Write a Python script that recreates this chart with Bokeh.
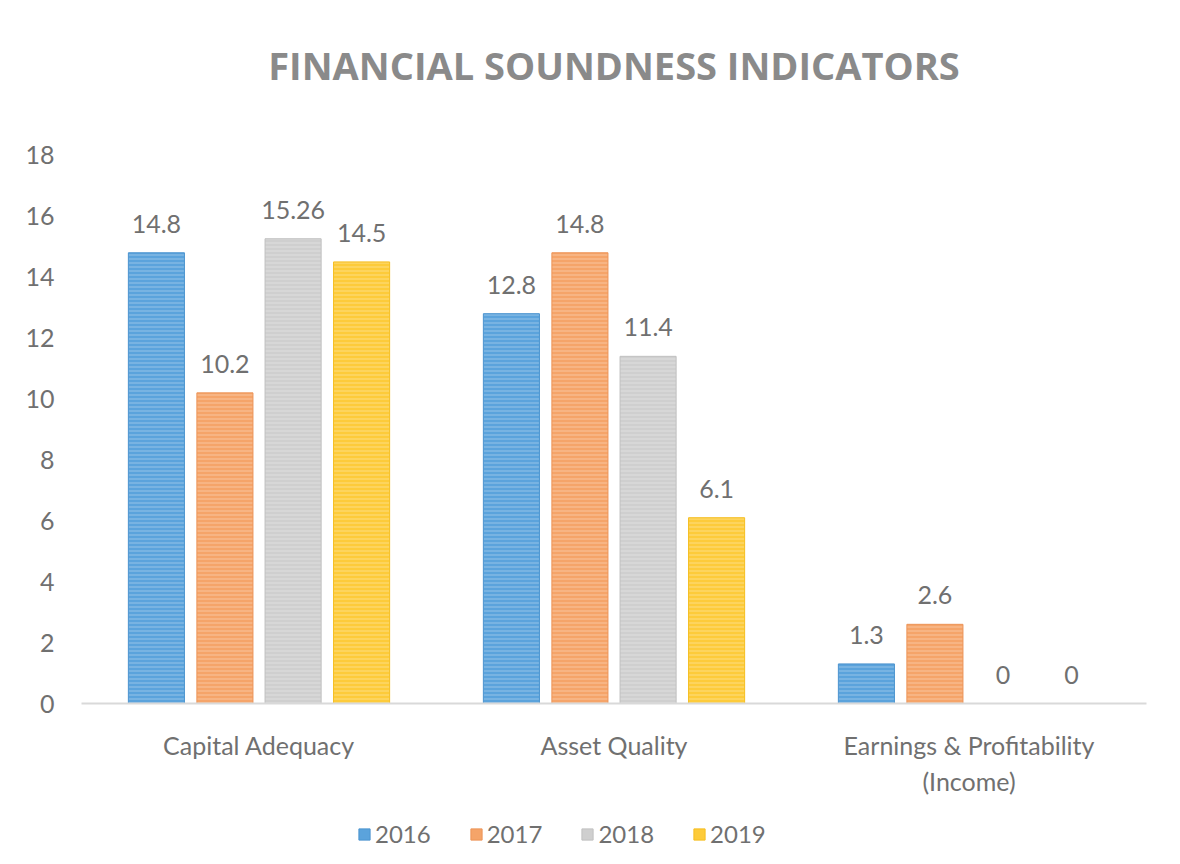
from bokeh.plotting import figure
from bokeh.layouts import column
from bokeh.models import ColumnDataSource, FactorRange, Range1d, Legend, LegendItem, LabelSet, FixedTicker
from bokeh.core.properties import value
from bokeh.transform import dodge
from bokeh.embed import file_html
from bokeh.resources import INLINE

categories = ["Capital Adequacy", "Asset Quality", "Earnings & Profitability\n(Income)"]
years = ["2016", "2017", "2018", "2019"]
v2016 = [14.8, 12.8, 1.3]
v2017 = [10.2, 14.8, 2.6]
v2018 = [15.26, 11.4, 0]
v2019 = [14.5, 6.1, 0]
y_ticks = [0, 2, 4, 6, 8, 10, 12, 14, 16, 18]

colors = ["#5BA3DC", "#F5A469", "#CFCFCF", "#FDCB3A"]
edge = ["#4C94CF", "#EC9458", "#C0C0C0", "#F5BE20"]
offsets = [-0.289, -0.096, 0.096, 0.289]
series = [v2016, v2017, v2018, v2019]

text_color = "#707070"
font = "Lato"
fs = "25px"

data = {"cat": categories}
for y, vals in zip(years, series):
    data["y" + y] = vals
    data["t" + y] = [("%g" % v) for v in vals]
source = ColumnDataSource(data)

# frame extends above the top tick (no visible frame), so the title can sit higher
p = figure(width=1172, frame_width=1065, frame_height=603,
           x_range=FactorRange(*categories, range_padding=0),
           y_range=Range1d(0, 19.8), output_backend="svg", toolbar_location=None,
           min_border_left=81, min_border_right=26, min_border_top=100, min_border_bottom=109)
p.outline_line_color = None
p.background_fill_color = "white"
p.border_fill_color = "white"
p.xgrid.grid_line_color = None
p.ygrid.grid_line_color = None

p.title.text = "FINANCIAL SOUNDNESS INDICATORS"
p.title.align = "center"
p.title.text_font = "Open Sans"
p.title.text_font_size = "38px"
p.title.text_font_style = "bold"
p.title.text_color = "#8A8A8A"
p.title.standoff = 20

for i, y in enumerate(years):
    p.vbar(x=dodge("cat", offsets[i], range=p.x_range), top="y" + y, width=0.158,
           source=source, fill_color=colors[i], line_color=edge[i], line_width=1,
           hatch_pattern="horizontal_line", hatch_color="white", hatch_alpha=0.35,
           hatch_scale=4, hatch_weight=1)
    lbl = LabelSet(x=dodge("cat", offsets[i], range=p.x_range), y="y" + y, text="t" + y,
                   source=source, text_align="center", text_baseline="bottom", y_offset=20,
                   text_font=value(font), text_font_size=value(fs), text_color=value(text_color))
    p.add_layout(lbl)

p.yaxis.ticker = FixedTicker(ticks=y_ticks)
p.yaxis.axis_line_color = None
p.yaxis.major_tick_line_color = None
p.yaxis.minor_tick_line_color = None
p.yaxis.major_label_text_font = font
p.yaxis.major_label_text_font_size = fs
p.yaxis.major_label_text_color = text_color
p.yaxis.major_label_standoff = 21

p.xaxis.axis_line_color = "#D9D9D9"
p.xaxis.axis_line_width = 2
p.xaxis.major_tick_line_color = None
p.xaxis.minor_tick_line_color = None
p.xaxis.major_label_text_font = font
p.xaxis.major_label_text_font_size = fs
p.xaxis.major_label_text_color = text_color
p.xaxis.major_label_standoff = 20

# separate strip for the legend, below the chart (swatch renderers lie outside its view)
lg = figure(width=1172, height=44, x_range=Range1d(0, 1), y_range=Range1d(0, 1),
            output_backend="svg", toolbar_location=None,
            min_border_left=0, min_border_right=0, min_border_top=0, min_border_bottom=0)
lg.axis.visible = False
lg.xgrid.grid_line_color = None
lg.ygrid.grid_line_color = None
lg.outline_line_color = None
lg.border_fill_color = "white"
swatch = ColumnDataSource(dict(x=[-5.0], top=[-5.0]))
legend_items = []
for i, y in enumerate(years):
    rr = lg.vbar(x="x", top="top", width=0.1, source=swatch, fill_color=colors[i],
                 line_color=edge[i])
    legend_items.append(LegendItem(label=y, renderers=[rr]))

legend = Legend(items=legend_items, orientation="horizontal", location=(276, 8),
                label_text_font=font, label_text_font_size="24px", label_text_color=text_color,
                glyph_width=14, glyph_height=14, spacing=38, label_standoff=4,
                border_line_color=None, background_fill_alpha=0, padding=4, margin=0)
lg.add_layout(legend)

layout = column(p, lg, spacing=0)
open("out.html", "w").write(file_html(layout, INLINE))
